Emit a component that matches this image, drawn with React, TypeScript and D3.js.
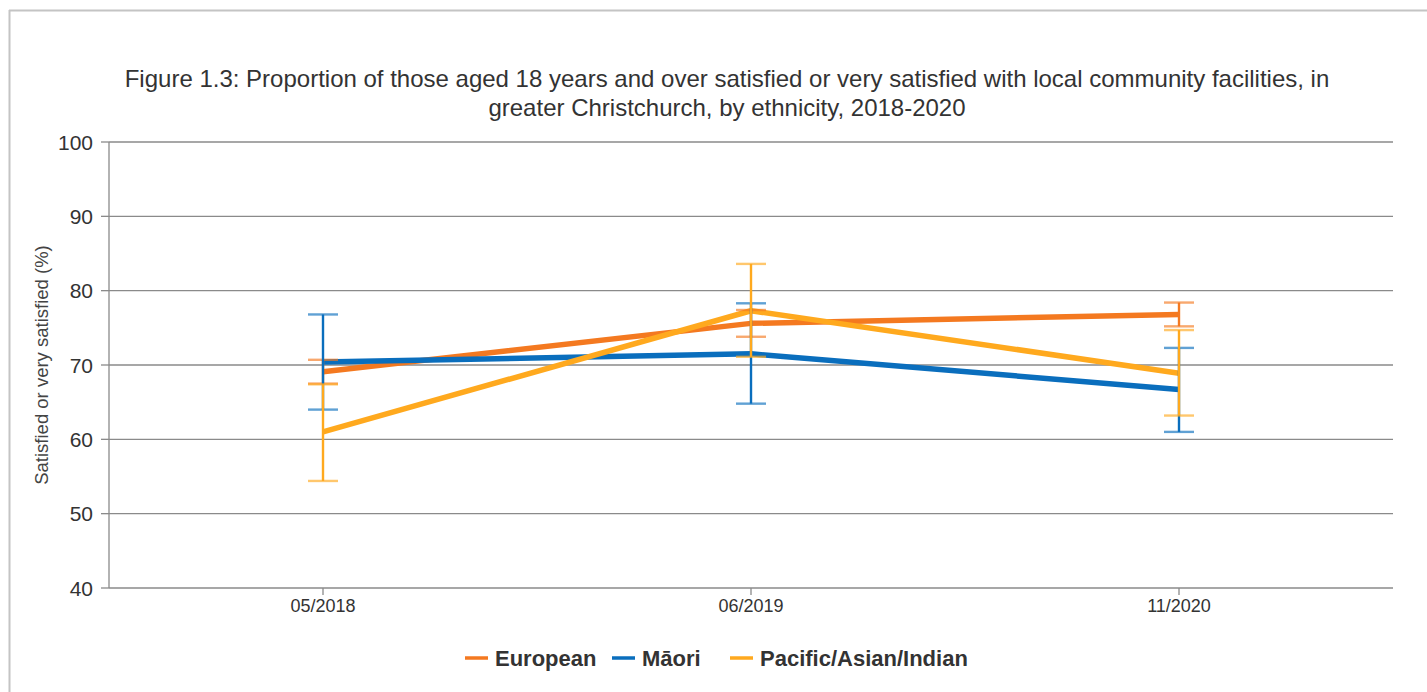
import React from "react";
import * as d3 from "d3";

const categories = ["05/2018", "06/2019", "11/2020"];
const seriesNames = ["European", "Māori", "Pacific/Asian/Indian"];
const europeanValues = [69.1, 75.6, 76.8];
const europeanLow = [67.5, 73.8, 75.2];
const europeanHigh = [70.7, 77.4, 78.4];
const maoriValues = [70.4, 71.5, 66.7];
const maoriLow = [64.0, 64.8, 61.0];
const maoriHigh = [76.8, 78.3, 72.3];
const pacificValues = [61.0, 77.3, 68.9];
const pacificLow = [54.4, 71.1, 63.2];
const pacificHigh = [67.4, 83.6, 74.7];
const yTicks = [40, 50, 60, 70, 80, 90, 100];

const colors = ["#F47920", "#0A6EBD", "#FFA91E"];

const series = [
  { name: seriesNames[0], values: europeanValues, low: europeanLow, high: europeanHigh, color: colors[0] },
  { name: seriesNames[1], values: maoriValues, low: maoriLow, high: maoriHigh, color: colors[1] },
  { name: seriesNames[2], values: pacificValues, low: pacificLow, high: pacificHigh, color: colors[2] },
];

const W = 1427;
const H = 692;
const M = { left: 109, right: 1393, top: 142, bottom: 588 };
const FONT = "'Liberation Sans', Arial, sans-serif";

export default function App() {
  const x = d3.scaleBand().domain(categories).range([M.left, M.right]);
  const y = d3.scaleLinear().domain([40, 100]).range([M.bottom, M.top]);
  const cx = (c: string) => (x(c) as number) + x.bandwidth() / 2;
  const line = d3
    .line<number>()
    .x((_, i) => cx(categories[i]))
    .y((v) => y(v));

  const legendItems = [
    { x: 465, textX: 495 },
    { x: 612, textX: 642 },
    { x: 730, textX: 760 },
  ];

  return (
    <svg
      width={W}
      height={H}
      style={{ position: "absolute", left: 0, top: 0, background: "#fff" }}
      fontFamily={FONT}
    >
      <rect x={0} y={0} width={W} height={H} fill="#fff" />
      {/* frame */}
      <line x1={9.5} y1={10} x2={9.5} y2={H} stroke="#c4c4c4" strokeWidth={2} />
      <line x1={9} y1={10.5} x2={W} y2={10.5} stroke="#c4c4c4" strokeWidth={2} />

      {/* title */}
      <text x={727} y={87} textAnchor="middle" fontSize={24} fill="#333">
        Figure 1.3: Proportion of those aged 18 years and over satisfied or very satisfied with local community facilities, in
      </text>
      <text x={727} y={116} textAnchor="middle" fontSize={24} fill="#333">
        greater Christchurch, by ethnicity, 2018-2020
      </text>

      {/* gridlines and y ticks */}
      {yTicks.map((t) => (
        <g key={t}>
          <line x1={M.left} x2={M.right} y1={y(t)} y2={y(t)} stroke="#8a8a8a" strokeWidth={1.3} />
          <line x1={101} x2={M.left} y1={y(t)} y2={y(t)} stroke="#8a8a8a" strokeWidth={1.3} />
          <text x={93} y={y(t) + 7.5} textAnchor="end" fontSize={21} fill="#333">
            {t}
          </text>
        </g>
      ))}
      <line x1={M.left} x2={M.left} y1={M.top} y2={M.bottom} stroke="#8a8a8a" strokeWidth={1.3} />

      {/* x ticks */}
      {categories.map((c) => (
        <g key={c}>
          <line x1={cx(c)} x2={cx(c)} y1={M.bottom} y2={M.bottom + 7} stroke="#8a8a8a" strokeWidth={1.3} />
          <text x={cx(c)} y={612} textAnchor="middle" fontSize={18} fill="#333">
            {c}
          </text>
        </g>
      ))}

      {/* y axis title */}
      <text
        transform={`translate(48,365) rotate(-90)`}
        textAnchor="middle"
        fontSize={18.5}
        fill="#444"
      >
        Satisfied or very satisfied (%)
      </text>

      {/* series lines */}
      {series.map((s) => (
        <path
          key={s.name + "-line"}
          d={line(s.values) as string}
          fill="none"
          stroke={s.color}
          strokeWidth={5.5}
          strokeLinejoin="round"
        />
      ))}

      {/* error bars */}
      {series.map((s) => (
        <g key={s.name + "-err"}>
          {categories.map((c, i) => (
            <g key={c}>
              <line x1={cx(c)} x2={cx(c)} y1={y(s.low[i])} y2={y(s.high[i])} stroke={s.color} strokeWidth={2.4} />
              <line x1={cx(c) - 15} x2={cx(c) + 15} y1={y(s.low[i])} y2={y(s.low[i])} stroke={s.color} strokeOpacity={0.65} strokeWidth={2.4} />
              <line x1={cx(c) - 15} x2={cx(c) + 15} y1={y(s.high[i])} y2={y(s.high[i])} stroke={s.color} strokeOpacity={0.65} strokeWidth={2.4} />
            </g>
          ))}
        </g>
      ))}

      {/* legend */}
      {series.map((s, i) => (
        <g key={s.name + "-legend"}>
          <line x1={legendItems[i].x} x2={legendItems[i].x + 23} y1={658} y2={658} stroke={s.color} strokeWidth={3.5} />
          <text x={legendItems[i].textX} y={665.5} fontSize={22} fontWeight="bold" fill="#333">
            {s.name}
          </text>
        </g>
      ))}
    </svg>
  );
}
